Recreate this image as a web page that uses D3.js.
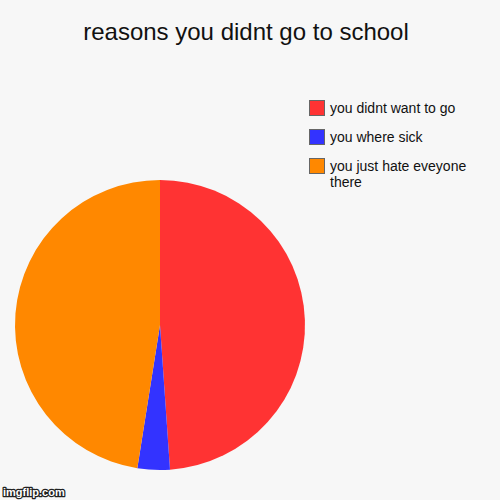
<!DOCTYPE html>
<html>
<head>
<meta charset="utf-8">
<script src="https://cdn.jsdelivr.net/npm/d3@7"></script>
<style>
  body { margin: 0; background: #f7f7f7; }
  svg { display: block; font-family: "Liberation Sans", Arial, sans-serif; }
</style>
</head>
<body>
<div id="chart"></div>
<script>
var title = 'reasons you didnt go to school'
var labels = ['you didnt want to go', 'you where sick', 'you just hate eveyone there']
var values = [48.9, 3.6, 47.5]
var colors = ['#ff3333', '#3333ff', '#ff8800']

var width = 500
var height = 500

var svg = d3.select('#chart').append('svg')
    .attr('width', width)
    .attr('height', height)

svg.append('rect')
    .attr('width', width)
    .attr('height', height)
    .attr('fill', '#f7f7f7')

svg.append('text')
    .attr('x', 246)
    .attr('y', 40)
    .attr('text-anchor', 'middle')
    .attr('font-size', '24px')
    .attr('fill', '#111')
    .text(title)

var pie = d3.pie().sort(null).value(d => d)
var arc = d3.arc().innerRadius(0).outerRadius(145)

var g = svg.append('g')
    .attr('transform', 'translate(160,325)')

g.selectAll('path')
    .data(pie(values))
    .enter().append('path')
    .attr('d', arc)
    .attr('fill', (d, i) => colors[i])

// legend
var legend = svg.append('g')
    .attr('transform', 'translate(309,100)')

var item = legend.selectAll('g')
    .data(labels)
    .enter().append('g')
    .attr('transform', (d, i) => 'translate(0,' + (i * 29) + ')')

item.append('rect')
    .attr('x', 0.5)
    .attr('y', 0.5)
    .attr('width', 15)
    .attr('height', 15)
    .attr('fill', (d, i) => colors[i])
    .attr('stroke', '#666')
    .attr('stroke-width', 1)

item.append('text')
    .attr('x', 21)
    .attr('y', 13)
    .attr('font-size', '14px')
    .attr('fill', '#111')
    .each(function (d) {
      // wrap long labels like the original
      var words = d.split(' ')
      var lines = []
      var line = ''
      words.forEach(function (w) {
        var t = line ? line + ' ' + w : w
        if (t.length > 24) {
          lines.push(line)
          line = w
        } else {
          line = t
        }
      })
      lines.push(line)
      d3.select(this).selectAll('tspan')
        .data(lines)
        .enter().append('tspan')
        .attr('x', 21)
        .attr('dy', (l, i) => i ? 16 : 0)
        .text(l => l)
    })

// watermark
svg.append('text')
    .attr('x', 3)
    .attr('y', 496)
    .attr('font-size', '11px')
    .attr('font-weight', 'bold')
    .attr('fill', 'white')
    .attr('stroke', '#222')
    .attr('stroke-width', 2.5)
    .attr('paint-order', 'stroke')
    .attr('stroke-linejoin', 'round')
    .text('imgflip.com')
</script>
</body>
</html>
